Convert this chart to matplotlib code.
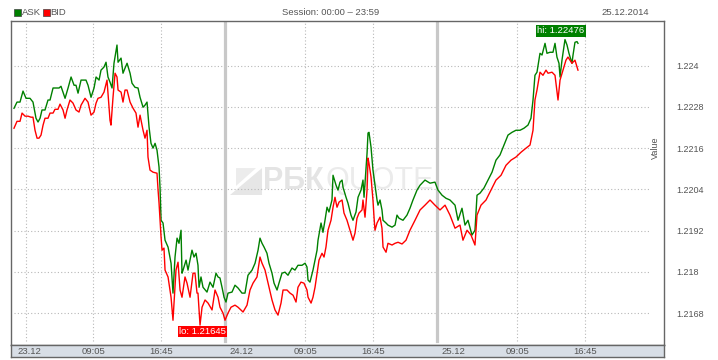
import matplotlib
matplotlib.use("Agg")
import matplotlib.pyplot as plt
import matplotlib.transforms as mtransforms
from matplotlib.patches import Rectangle, Polygon
import numpy as np

plt.rcParams['font.family'] = ['Liberation Sans', 'DejaVu Sans']

# ---------------- data (hours since 23.12 00:00) ----------------
ask_hours = [0.11, 0.45, 0.79, 1.13, 1.47, 1.92, 2.26, 2.60, 2.83, 3.06, 3.28, 3.62, 3.96, 4.19,
             4.53, 4.87, 5.21, 5.43, 5.89, 6.23, 6.57, 6.91, 7.13, 7.36, 7.70, 8.26, 8.49, 8.83,
             9.17, 9.40, 9.74, 9.96, 10.30, 10.53, 10.75, 10.98, 11.21, 11.43, 11.77, 11.89, 12.23,
             12.45, 12.68, 12.91, 13.25, 13.47, 13.81, 14.15, 14.38, 14.72, 14.94, 15.17, 15.40,
             15.62, 15.85, 16.08, 16.30, 16.53, 16.64, 16.76, 16.98, 17.21, 17.55, 17.89, 18.11,
             18.34, 18.57, 18.79, 19.02, 19.13, 19.25, 19.59, 19.81, 20.26, 20.49, 20.72, 20.94,
             21.06, 21.28, 21.51, 21.96, 22.30, 22.64, 22.98, 23.21, 23.43, 23.66, 23.89, 24.11,
             24.34, 24.79, 25.13, 25.47, 25.92, 26.26, 26.60, 27.06, 27.40, 27.74, 27.96, 28.19,
             28.42, 28.75, 28.98, 29.32, 29.55, 29.89, 30.11, 30.45, 30.79, 31.13, 31.58, 31.92,
             32.26, 32.72, 33.06, 33.28, 33.40, 33.62, 33.96, 34.19, 34.42, 34.53, 34.87, 35.09,
             35.32, 35.55, 35.77, 36.11, 36.23, 36.57, 36.79, 37.02, 37.25, 37.36, 37.70, 37.92,
             38.26, 38.49, 38.83, 39.06, 39.40, 39.62, 39.74, 39.85, 40.08, 40.19, 40.30, 40.53,
             40.75, 40.98, 41.21, 41.32, 41.55, 41.77, 41.89, 42.23, 42.45, 42.91, 43.25, 43.47,
             43.70, 44.15, 44.60, 44.94, 45.28, 45.74, 46.08, 46.64, 47.21, 47.77, 48.11, 48.57,
             49.02, 49.47, 50.04, 50.38, 50.83, 51.17, 51.51, 51.96, 52.30, 52.53, 52.87, 53.32,
             53.77, 54.23, 54.68, 55.13, 55.58, 56.04, 56.49, 56.94, 57.40, 57.85, 58.30, 58.64,
             58.87, 59.09, 59.32, 59.66, 59.89, 60.23, 60.45, 60.79, 61.13, 61.36, 61.58, 61.81,
             61.93, 62.15, 62.49, 62.72, 62.94, 63.28, 63.40, 63.62, 63.85, 63.96]
ask_values = [1.22276, 1.22294, 1.22294, 1.22326, 1.22305, 1.22305, 1.22294, 1.22247, 1.22236,
              1.22247, 1.22271, 1.22271, 1.22300, 1.22300, 1.22335, 1.22335, 1.22335, 1.22340,
              1.22305, 1.22335, 1.22367, 1.22343, 1.22343, 1.22320, 1.22358, 1.22358, 1.22343,
              1.22308, 1.22335, 1.22367, 1.22358, 1.22387, 1.22396, 1.22410, 1.22367, 1.22352,
              1.22335, 1.22407, 1.22460, 1.22410, 1.22422, 1.22378, 1.22393, 1.22407, 1.22378,
              1.22349, 1.22337, 1.22335, 1.22308, 1.22279, 1.22285, 1.22294, 1.22221, 1.22174,
              1.22160, 1.22174, 1.22154, 1.22105, 1.22046, 1.21950, 1.21942, 1.21892, 1.21872,
              1.21825, 1.21738, 1.21843, 1.21898, 1.21883, 1.21921, 1.21796, 1.21805, 1.21834,
              1.21805, 1.21863, 1.21843, 1.21854, 1.21819, 1.21755, 1.21785, 1.21755, 1.21741,
              1.21770, 1.21755, 1.21796, 1.21785, 1.21782, 1.21755, 1.21726, 1.21712, 1.21738,
              1.21741, 1.21761, 1.21753, 1.21738, 1.21738, 1.21790, 1.21805, 1.21825, 1.21863,
              1.21898, 1.21883, 1.21872, 1.21854, 1.21825, 1.21796, 1.21767, 1.21747, 1.21767,
              1.21796, 1.21799, 1.21790, 1.21811, 1.21805, 1.21819, 1.21819, 1.21825, 1.21814,
              1.21776, 1.21770, 1.21805, 1.21834, 1.21863, 1.21892, 1.21942, 1.21915, 1.21950,
              1.21988, 1.21974, 1.22009, 1.22081, 1.22052, 1.22038, 1.22061, 1.22067, 1.22046,
              1.22017, 1.22000, 1.21965, 1.21950, 1.21974, 1.22017, 1.22038, 1.22067, 1.22017,
              1.22058, 1.22145, 1.22204, 1.22206, 1.22163, 1.22096, 1.22052, 1.22009, 1.21994,
              1.22009, 1.21980, 1.21950, 1.21942, 1.21936, 1.21930, 1.21936, 1.21965, 1.21956,
              1.21950, 1.21965, 1.21985, 1.22009, 1.22038, 1.22052, 1.22067, 1.22058, 1.22061,
              1.22038, 1.22023, 1.22014, 1.22009, 1.21994, 1.21950, 1.21985, 1.21936, 1.21950,
              1.21907, 1.21921, 1.22023, 1.22029, 1.22044, 1.22067, 1.22090, 1.22125, 1.22140,
              1.22169, 1.22198, 1.22206, 1.22212, 1.22212, 1.22218, 1.22227, 1.22247, 1.22300,
              1.22372, 1.22381, 1.22436, 1.22431, 1.22465, 1.22436, 1.22439, 1.22439, 1.22465,
              1.22425, 1.22407, 1.22367, 1.22416, 1.22476, 1.22460, 1.22436, 1.22407, 1.22431,
              1.22468, 1.22470, 1.22465]

bid_hours = [0.11, 0.45, 0.79, 1.02, 1.36, 1.70, 2.04, 2.26, 2.49, 2.72, 2.94, 3.17, 3.40, 3.62,
             3.96, 4.19, 4.53, 4.75, 5.09, 5.32, 5.66, 5.89, 6.11, 6.45, 6.79, 7.13, 7.47, 7.70,
             8.15, 8.49, 8.83, 9.17, 9.40, 9.62, 9.96, 10.30, 10.64, 10.98, 11.09, 11.32, 11.55,
             11.77, 11.89, 12.23, 12.45, 12.68, 12.91, 13.25, 13.59, 13.92, 14.15, 14.38, 14.72,
             14.94, 15.17, 15.28, 15.51, 15.85, 16.30, 16.42, 16.53, 16.76, 16.87, 17.09, 17.21,
             17.55, 17.89, 18.11, 18.23, 18.45, 18.68, 18.91, 19.13, 19.47, 19.70, 20.04, 20.38,
             20.60, 20.83, 20.94, 21.17, 21.40, 21.74, 22.08, 22.53, 22.87, 23.21, 23.43, 23.77,
             24.00, 24.34, 24.68, 25.13, 25.47, 26.04, 26.49, 26.83, 27.17, 27.62, 27.96, 28.19,
             28.53, 28.87, 29.32, 29.66, 30.00, 30.34, 30.57, 31.02, 31.36, 31.70, 32.04, 32.26,
             32.60, 32.94, 33.28, 33.40, 33.74, 33.96, 34.19, 34.42, 34.64, 34.98, 35.21, 35.43,
             35.66, 36.00, 36.23, 36.45, 36.68, 36.91, 37.25, 37.47, 37.81, 38.15, 38.49, 38.72,
             38.94, 39.17, 39.51, 39.62, 39.85, 40.08, 40.19, 40.30, 40.53, 40.75, 40.87, 40.98,
             41.21, 41.55, 41.77, 41.89, 42.23, 42.45, 42.91, 43.25, 43.59, 44.04, 44.49, 44.94,
             45.51, 46.08, 46.64, 47.21, 47.77, 48.34, 48.91, 49.47, 50.04, 50.60, 50.94, 51.40,
             51.85, 52.30, 52.53, 52.98, 53.55, 54.11, 54.68, 55.25, 55.81, 56.38, 56.94, 57.51,
             58.08, 58.53, 58.87, 59.09, 59.32, 59.66, 60.00, 60.34, 60.57, 61.02, 61.36, 61.70,
             61.93, 62.26, 62.60, 62.83, 63.28, 63.62, 63.96]
bid_values = [1.22218, 1.22238, 1.22238, 1.22262, 1.22253, 1.22253, 1.22250, 1.22250, 1.22212,
              1.22189, 1.22189, 1.22198, 1.22227, 1.22247, 1.22247, 1.22262, 1.22262, 1.22273,
              1.22273, 1.22288, 1.22271, 1.22247, 1.22271, 1.22300, 1.22291, 1.22271, 1.22265,
              1.22285, 1.22305, 1.22294, 1.22256, 1.22265, 1.22291, 1.22305, 1.22308, 1.22323,
              1.22358, 1.22241, 1.22227, 1.22308, 1.22378, 1.22367, 1.22329, 1.22323, 1.22294,
              1.22329, 1.22329, 1.22294, 1.22276, 1.22262, 1.22221, 1.22256, 1.22212, 1.22189,
              1.22212, 1.22134, 1.22096, 1.22090, 1.22087, 1.22038, 1.22000, 1.21901, 1.21863,
              1.21869, 1.21805, 1.21785, 1.21726, 1.21659, 1.21709, 1.21805, 1.21828, 1.21747,
              1.21726, 1.21785, 1.21767, 1.21726, 1.21796, 1.21796, 1.21738, 1.21738, 1.21645,
              1.21697, 1.21718, 1.21709, 1.21689, 1.21747, 1.21726, 1.21697, 1.21680, 1.21659,
              1.21680, 1.21697, 1.21703, 1.21697, 1.21683, 1.21703, 1.21747, 1.21767, 1.21785,
              1.21843, 1.21825, 1.21805, 1.21767, 1.21718, 1.21689, 1.21674, 1.21709, 1.21747,
              1.21747, 1.21738, 1.21732, 1.21712, 1.21755, 1.21770, 1.21767, 1.21747, 1.21726,
              1.21709, 1.21726, 1.21755, 1.21796, 1.21834, 1.21854, 1.21843, 1.21872, 1.21921,
              1.21950, 1.21988, 1.22017, 1.21988, 1.22003, 1.22009, 1.21971, 1.21950, 1.21921,
              1.21892, 1.21913, 1.21956, 1.21971, 1.21980, 1.22009, 1.21959, 1.22038, 1.22131,
              1.22116, 1.22076, 1.22009, 1.21959, 1.21921, 1.21942, 1.21959, 1.21927, 1.21872,
              1.21857, 1.21883, 1.21878, 1.21883, 1.21886, 1.21881, 1.21892, 1.21921, 1.21950,
              1.21980, 1.21994, 1.22009, 1.21994, 1.21980, 1.21994, 1.21965, 1.21927, 1.21936,
              1.21892, 1.21921, 1.21907, 1.21878, 1.21965, 1.21994, 1.22009, 1.22038, 1.22067,
              1.22081, 1.22110, 1.22125, 1.22134, 1.22148, 1.22160, 1.22169, 1.22212, 1.22300,
              1.22329, 1.22381, 1.22372, 1.22387, 1.22378, 1.22381, 1.22372, 1.22300, 1.22358,
              1.22387, 1.22416, 1.22425, 1.22407, 1.22416, 1.22387]

series_names = ["ASK", "BID"]
series_colors = ["#008000", "#ff0000"]

y_ticks = [1.2168, 1.218, 1.2192, 1.2204, 1.2216, 1.2228, 1.224]
y_tick_labels = ["1.2168", "1.218", "1.2192", "1.2204", "1.2216", "1.2228", "1.224"]
time_ticks = [1.47, 9.083, 16.75, 33.083, 40.75, 57.083, 64.75]
time_labels = ["", "09:05", "16:45", "09:05", "16:45", "09:05", "16:45"]
day_starts = [0, 24, 48]
day_labels = ["23.12", "24.12", "25.12"]
title_text = "Session: 00:00 \u2013 23:59"
date_text = "25.12.2014"
y_label = "Value"

# ---------------- figure ----------------
W, H = 718, 360
fig = plt.figure(figsize=(W / 100, H / 100), dpi=100)
fig.patch.set_facecolor("white")

ax = fig.add_axes([11 / W, 15 / H, 653 / W, 324 / H])
ax.set_xlim(-0.23, 73.7)
ax.set_ylim(1.21587, 1.22530)
ax.set_facecolor("white")

txt_col = "#555555"
fs = 6.8

# watermark
ax.text(0.386, 0.505, "РБК", transform=ax.transAxes, fontsize=22, fontweight="bold",
        color="#e4e4e4", ha="left", va="center", zorder=0)
ax.text(0.481, 0.505, "QUOTE", transform=ax.transAxes, fontsize=22,
        color="#ebebeb", ha="left", va="center", zorder=0)
ax.add_patch(Polygon([(0.3354, 0.463), (0.3844, 0.546), (0.3844, 0.463)], closed=True,
                     transform=ax.transAxes, fc="#e6e6e6", ec="none", zorder=0))
ax.add_patch(Polygon([(0.3446, 0.546), (0.3752, 0.546), (0.3446, 0.491)], closed=True,
                     transform=ax.transAxes, fc="#ececec", ec="none", zorder=0))

# grid
ax.hlines(y_ticks, 0.11, 72, colors="#b8b8b8", linestyles=(0, (1, 2)), lw=0.8, zorder=1)
for t in time_ticks:
    ax.axvline(t, ymin=0.012, ymax=0.994, color="#b8b8b8", ls=(0, (1, 2)), lw=0.8, zorder=1)
for d in day_starts[1:]:
    ax.axvline(d, ymin=0.012, ymax=0.994, color="#c8c8c8", lw=2.3, zorder=1)

# series
ax.plot(ask_hours, ask_values, color=series_colors[0], lw=1.0, zorder=3)
ax.plot(bid_hours, bid_values, color=series_colors[1], lw=1.0, zorder=3)

# hi / lo labels
hi_i = int(np.argmax(ask_values))
lo_i = int(np.argmin(bid_values))
ax.annotate(f"hi: {ask_values[hi_i]:.5f}", (ask_hours[hi_i], ask_values[hi_i]),
            xytext=(-3, 6.2), textcoords="offset points", ha="center", va="center",
            fontsize=fs, color="white", zorder=5,
            bbox=dict(boxstyle="square,pad=0.12", fc=series_colors[0], ec="none"))
ax.annotate(f"lo: {bid_values[lo_i]:.5f}", (bid_hours[lo_i], bid_values[lo_i]),
            xytext=(1.5, -4.5), textcoords="offset points", ha="center", va="center",
            fontsize=fs, color="white", zorder=5,
            bbox=dict(boxstyle="square,pad=0.12", fc=series_colors[1], ec="none"))

# axes styling
ax.set_xticks([])
ax.yaxis.tick_right()
ax.set_yticks(y_ticks, y_tick_labels)
ax.tick_params(axis="y", length=0, pad=8.6, labelsize=fs - 0.3, labelcolor=txt_col)
for s in ax.spines.values():
    s.set_color("#666666")
    s.set_linewidth(1.0)
ax.text((655 - 11) / 653, (345 - 148) / 324, y_label, transform=ax.transAxes, rotation=90,
        ha="center", va="center", fontsize=fs - 0.3, color=txt_col)

# bottom time band
bx = fig.add_axes([11 / W, 3 / H, 653 / W, 12 / H])
bx.set_xlim(ax.get_xlim())
bx.set_ylim(0, 1)
bx.set_facecolor("#d8dee6")
bx.set_xticks([])
bx.set_yticks([])
for s in bx.spines.values():
    s.set_color("#666666")
    s.set_linewidth(1.0)
btrans = mtransforms.blended_transform_factory(bx.transData, bx.transAxes)
day_trans = mtransforms.offset_copy(btrans, fig=fig, x=4.5, y=0, units="dots")
for d, lab in zip(day_starts, day_labels):
    bx.text(d, 0.45, lab, transform=day_trans, ha="left", va="center", fontsize=fs, color=txt_col)
for t, lab in zip(time_ticks, time_labels):
    if lab:
        bx.text(t, 0.45, lab, transform=btrans, ha="center", va="center", fontsize=fs, color=txt_col)

# header: legend, session, date
for i, (name, col) in enumerate(zip(series_names, series_colors)):
    x0 = [14, 43][i]
    fig.add_artist(Rectangle((x0 / W, 1 - 16 / H), 7 / W, 7 / H, transform=fig.transFigure,
                             fc=col, ec="#404040", lw=0.5))
    fig.text((x0 + 7.5) / W, 1 - 12.5 / H, name, ha="left", va="center", fontsize=fs, color=txt_col)
fig.text(331 / W, 1 - 12.5 / H, title_text, ha="center", va="center", fontsize=fs, color=txt_col)
fig.text(649 / W, 1 - 12.5 / H, date_text, ha="right", va="center", fontsize=fs, color=txt_col)

fig.savefig("out.png", dpi=100, facecolor="white")
